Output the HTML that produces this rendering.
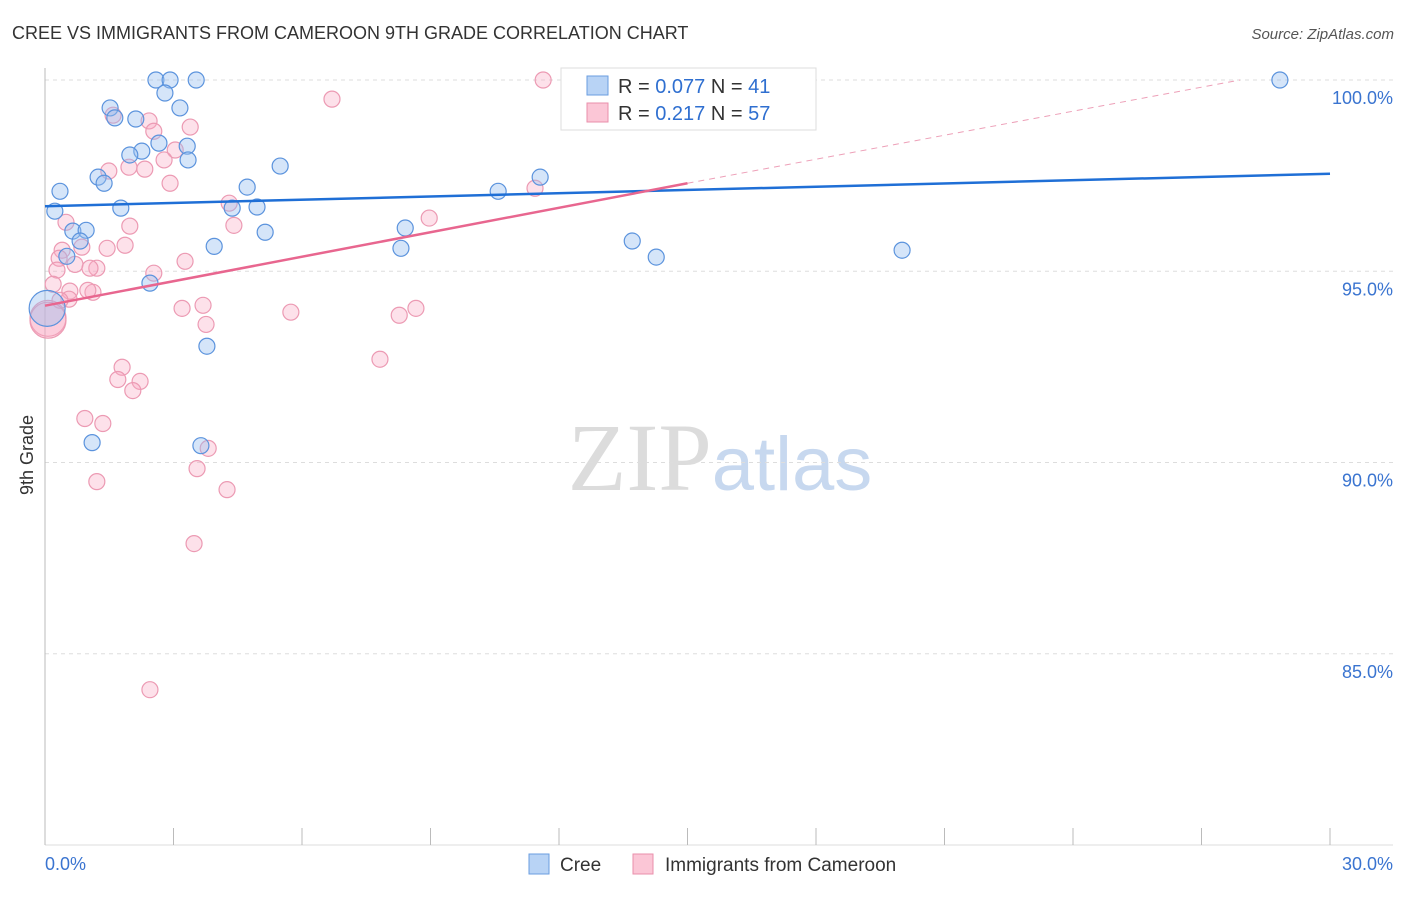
<!DOCTYPE html>
<html><head><meta charset="utf-8"><style>
body{margin:0;background:#fff;font-family:"Liberation Sans",sans-serif;}
svg text{font-family:"Liberation Sans",sans-serif;}
</style></head><body>
<svg id="chart" width="1406" height="892" xmlns="http://www.w3.org/2000/svg">
<text x="12" y="39" font-size="18" fill="#333">CREE VS IMMIGRANTS FROM CAMEROON 9TH GRADE CORRELATION CHART</text>
<text x="1394" y="39" font-size="15" fill="#555" font-style="italic" text-anchor="end">Source: ZipAtlas.com</text>
<text x="720" y="490" font-size="96" text-anchor="middle"><tspan fill="#dcdcdc" font-family="Liberation Serif">ZIP</tspan><tspan fill="#c7d8ef" font-size="76">atlas</tspan></text>
<text transform="translate(33,455) rotate(-90)" font-size="18" fill="#333" text-anchor="middle">9th Grade</text>
<g id="grid"></g><g id="axes"></g><g id="pts"></g><g id="trend"></g>
<g>
<rect x="561" y="68" width="255" height="62" fill="#fff" stroke="#ddd"/>
<rect x="587" y="76" width="21" height="19" fill="#b8d3f5" stroke="#6a9ee0"/>
<rect x="587" y="103" width="21" height="19" fill="#fbc6d6" stroke="#ea8fab"/>
<text x="618" y="93" font-size="20" fill="#333">R = <tspan fill="#2f6fd0">0.077</tspan>   N = <tspan fill="#2f6fd0"> 41</tspan></text>
<text x="618" y="120" font-size="20" fill="#333">R = <tspan fill="#2f6fd0"> 0.217</tspan>   N = <tspan fill="#2f6fd0">57</tspan></text>
</g>
<g>
<rect x="529" y="854" width="20" height="20" fill="#b8d3f5" stroke="#6a9ee0"/>
<text x="560" y="871" font-size="19" fill="#333">Cree</text>
<rect x="633" y="854" width="20" height="20" fill="#fbc6d6" stroke="#ea8fab"/>
<text x="665" y="871" font-size="19" fill="#333">Immigrants from Cameroon</text>
</g>
</svg>
<script>
const xTicks=[0,3,6,9,12,15,18,21,24,27,30];
const yTicks=[100,95,90,85];
const yTickLabels=["100.0%","95.0%","90.0%","85.0%"];
const xEndLabels=["0.0%","30.0%"];
const creeX=[2.59,2.92,3.53,2.80,3.15,1.52,1.63,2.12,3.32,2.66,2.26,1.98,3.34,5.49,1.24,1.38,4.72,0.35,11.56,10.58,0.23,1.77,4.95,4.37,5.14,8.41,0.65,0.96,0.82,3.95,8.31,13.71,14.27,20.01,0.51,2.45,0.05,3.78,1.10,3.64,28.83];
const creeY=[100,100,100,99.66,99.27,99.27,99.01,98.98,98.27,98.35,98.14,98.04,97.91,97.75,97.46,97.30,97.20,97.09,97.46,97.09,96.57,96.65,96.68,96.65,96.02,96.13,96.05,96.07,95.79,95.65,95.60,95.79,95.37,95.55,95.39,94.69,94.03,93.04,90.52,90.44,100];
const camX=[11.63,6.70,1.59,2.43,2.54,3.39,3.04,2.78,1.49,1.96,2.33,2.92,11.44,4.30,4.41,8.97,0.49,1.98,1.87,1.45,0.86,0.40,0.33,0.70,1.21,1.05,0.28,3.27,2.54,0.19,0.58,0.56,1.12,1.00,3.20,3.69,5.74,8.66,8.27,3.76,7.82,1.80,1.70,2.22,2.05,0.93,1.35,3.81,3.55,1.21,4.25,3.48,2.45,0.07,14.55,0.35,0.07];
const camY=[100,99.50,99.08,98.93,98.66,98.77,98.17,97.91,97.62,97.72,97.67,97.30,97.17,96.78,96.20,96.39,96.28,96.18,95.68,95.60,95.63,95.55,95.34,95.18,95.08,95.08,95.03,95.26,94.95,94.66,94.48,94.27,94.45,94.50,94.03,94.11,93.93,94.03,93.85,93.61,92.70,92.49,92.17,92.12,91.88,91.15,91.02,90.37,89.84,89.50,89.29,87.88,84.06,93.77,98.95,94.24,93.72];
const creeTrendX=[0,30];
const creeTrendY=[96.7,97.55];
const camTrendX=[0,15,27.9];
const camTrendY=[94.1,97.3,100];

const NS="http://www.w3.org/2000/svg";
const X0=45,X1=1330,Y0=80,Y1=845;
function sx(v){return X0+(v-0)/(30-0)*(X1-X0);}
function sy(v){return Y0+(100-v)/(100-80)*(Y1-Y0);}
function mk(tag,attrs,parent){const e=document.createElementNS(NS,tag);for(const k in attrs)e.setAttribute(k,attrs[k]);parent.appendChild(e);return e;}
const grid=document.getElementById('grid'),axes=document.getElementById('axes'),pts=document.getElementById('pts'),trend=document.getElementById('trend');
yTicks.forEach((t,i)=>{
 const l=mk('line',{x1:X0,x2:1393,y1:sy(t),y2:sy(t),stroke:'#ddd','stroke-dasharray':'4,4'},grid);
 
 
 const tx=mk('text',{x:1393,y:sy(t)+24,'font-size':18,fill:'#3a74d0','text-anchor':'end'},grid);
 tx.textContent=yTickLabels[i];
 
 
});
const ya=mk('line',{x1:X0,x2:X0,y1:68,y2:Y1,stroke:'#bbb'},axes);


const xa=mk('line',{x1:X0,x2:1393,y1:Y1,y2:Y1,stroke:'#ddd'},axes);


xTicks.forEach(t=>{
 const l=mk('line',{x1:sx(t),x2:sx(t),y1:828,y2:Y1,stroke:'#bbb'},axes);
 
 
});
const xl0=mk('text',{x:45,y:870,'font-size':18,fill:'#3a74d0'},axes);xl0.textContent=xEndLabels[0];


const xl1=mk('text',{x:1393,y:870,'font-size':18,fill:'#3a74d0','text-anchor':'end'},axes);xl1.textContent=xEndLabels[1];


function dots(xs,ys,fill,stroke,name){xs.forEach((x,i)=>{
 const big=(x<0.1&&ys[i]<94.1&&ys[i]>93.5);
 const c=mk('circle',{cx:sx(x),cy:sy(ys[i]),r:big?18:8,fill:fill,stroke:stroke,'stroke-width':1.2},pts);
 
 
});}
dots(camX,camY,'rgba(248,170,195,0.35)','#ec9ab3','cameroon-point');
dots(creeX,creeY,'rgba(150,190,240,0.4)','#5b93dd','cree-point');
const bl=mk('line',{x1:sx(creeTrendX[0]),y1:sy(creeTrendY[0]),x2:sx(creeTrendX[1]),y2:sy(creeTrendY[1]),stroke:'#1f6fd6','stroke-width':2.5},trend);


const pl=mk('line',{x1:sx(camTrendX[0]),y1:sy(camTrendY[0]),x2:sx(camTrendX[1]),y2:sy(camTrendY[1]),stroke:'#e8668f','stroke-width':2.5},trend);


const pd=mk('line',{x1:sx(camTrendX[1]),y1:sy(camTrendY[1]),x2:sx(camTrendX[2]),y2:sy(camTrendY[2]),stroke:'#eda0b8','stroke-width':1,'stroke-dasharray':'6,5'},trend);


</script>
</body></html>
